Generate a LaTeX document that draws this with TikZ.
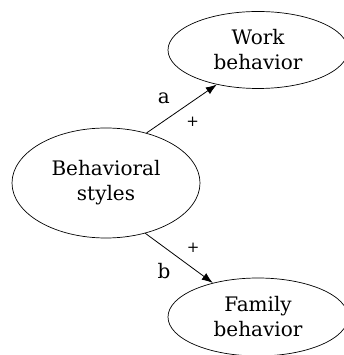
\documentclass[tikz,border=0pt]{standalone}
\usepackage{fontspec}
\setmainfont{DejaVu Serif}
\usetikzlibrary{positioning,shapes.geometric,arrows.meta}

\begin{document}
\begin{tikzpicture}[x=1pt,y=1pt]
            \tikzset{
                bubble/.style={draw,line width=0.7pt,ellipse,inner sep=0pt,align=center,font=\fontsize{20}{25}\selectfont},
                link/.style={thick,-{Latex[length=11pt,width=8pt]}},
                tag/.style={font=\fontsize{20}{20}\selectfont},
                sign/.style={font=\fontsize{15}{15}\selectfont},}
            \useasboundingbox (0,0) rectangle (344,355);
            \node [bubble,minimum width=188pt,minimum height=110pt] (styles) at (106,172) {Behavioral\\styles};
            \node [bubble,minimum width=180pt,minimum height=77pt] (work) at (258,305) {Work\\behavior};
            \node [bubble,minimum width=180pt,minimum height=78pt] (family) at (258,38) {Family\\behavior};
            \draw [link] (styles.51) -- node [above left=1pt and 8pt,tag] {a} node [below right=5pt and 1pt,sign] {+} (work.220);
            \draw [link] (styles.308) -- node [above right=2pt and 4pt,sign] {+} node [below left=1pt and 5pt,tag] {b} (family.143);
        \end{tikzpicture}
\end{document}
